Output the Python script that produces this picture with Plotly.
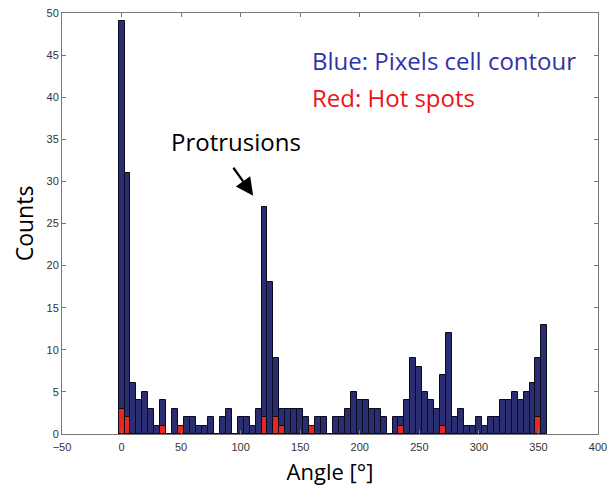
import plotly.graph_objects as go

angles = list(range(0, 360, 5))
blue_counts = [49, 31, 6, 4, 5, 3, 1, 4, 0, 3,
               1, 2, 2, 1, 1, 2, 0, 2, 3, 0,
               2, 2, 1, 3, 27, 18, 9, 3, 3, 3,
               3, 2, 1, 2, 2, 0, 2, 2, 3, 5,
               4, 4, 3, 3, 2, 0, 2, 2, 4, 9,
               8, 5, 4, 3, 7, 12, 2, 3, 1, 1,
               2, 1, 2, 2, 4, 4, 5, 4, 5, 6,
               9, 13]
red_angles = [0, 5, 35, 50, 120, 130, 135, 160, 235, 270, 350]
red_counts = [3, 2, 1, 1, 2, 2, 1, 1, 1, 1, 2]

x_ticks = list(range(-50, 401, 50))
y_ticks = list(range(0, 51, 5))

fig = go.Figure()
fig.add_trace(go.Bar(x=angles, y=blue_counts, width=5,
                     marker=dict(color="rgb(42,46,112)", line=dict(color="rgb(10,10,30)", width=1)),
                     showlegend=False))
fig.add_trace(go.Bar(x=red_angles, y=red_counts, width=5,
                     marker=dict(color="rgb(232,40,30)", line=dict(color="rgb(10,10,30)", width=1)),
                     showlegend=False))

axis_common = dict(showline=True, linecolor="#777", linewidth=1, mirror="ticks",
                   ticks="inside", ticklen=4, tickcolor="#777", showgrid=False, zeroline=False,
                   automargin=False,
                   tickfont=dict(family="Liberation Sans, Arial", size=11, color="#333"))

fig.update_layout(
    width=611, height=493,
    margin=dict(l=62, r=13, t=13, b=59),
    plot_bgcolor="white", paper_bgcolor="white",
    barmode="overlay", bargap=0,
    xaxis=dict(range=[-50, 400], tickvals=x_ticks, ticklabelstandoff=3,
               title=dict(text="Angle [°]", font=dict(family="Open Sans", size=22, color="black"), standoff=12),
               **axis_common),
    yaxis=dict(range=[0, 50], tickvals=y_ticks,
               title=dict(text="Counts", font=dict(family="Open Sans", size=23, color="black"), standoff=6),
               **axis_common),
    annotations=[
        dict(x=158, y=44.4, xref="x", yref="y", text="Blue: Pixels cell contour", showarrow=False,
             xanchor="left", font=dict(family="Open Sans", size=24, color="rgb(50,50,170)")),
        dict(x=158, y=40.0, xref="x", yref="y", text="Red: Hot spots", showarrow=False,
             xanchor="left", font=dict(family="Open Sans", size=24, color="rgb(235,20,20)")),
        dict(x=96, y=34.7, xref="x", yref="y", text="Protrusions", showarrow=False,
             font=dict(family="Open Sans", size=24, color="black")),
        dict(x=110.5, y=28.3, xref="x", yref="y", ax=93, ay=31.8, axref="x", ayref="y",
             text="", showarrow=True, arrowhead=2, arrowsize=1.6, arrowwidth=2.2, arrowcolor="black"),
    ],
)

fig.write_html("out.html")
